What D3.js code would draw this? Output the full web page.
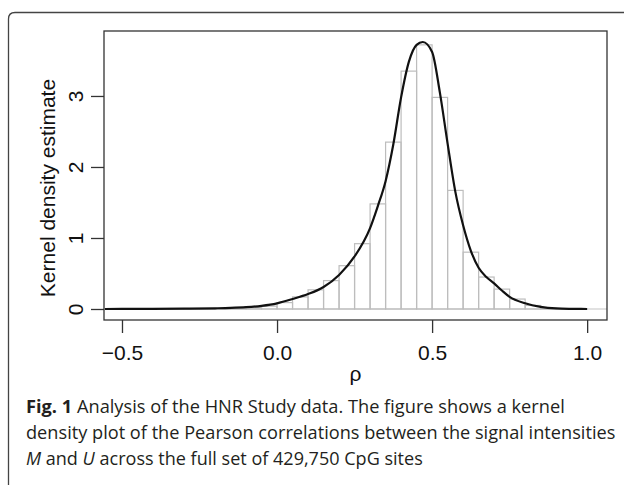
<!DOCTYPE html>
<html lang="en">

<head>
    <meta charset="utf-8">
    <title>Kernel density of rho</title>
    <script src="https://cdn.jsdelivr.net/npm/d3@7"></script>
    <style>
        body {
            margin: 0;
            background: #fff;
        }

        .svg {
            width: 624px;
            height: 485px;
            display: block;
        }

        .axis text {
            font-family: "Liberation Sans", Arial, sans-serif;
            font-size: 21px;
            fill: #111;
        }

        .axis line {
            stroke: #333;
            stroke-width: 1.3px;
        }

        .caption {
            font-family: "Open Sans", "Noto Sans", sans-serif;
            font-size: 18px;
            fill: #231f20;
        }
    </style>
</head>

<body>
    <div id="infoviz"></div>
    <script type="text/javascript">
        // histogram bins (left edge) and their densities
        var binStarts = [-0.50, -0.45, -0.40, -0.35, -0.30, -0.25, -0.20, -0.15, -0.10, -0.05,
            0.00, 0.05, 0.10, 0.15, 0.20, 0.25, 0.30, 0.35, 0.40, 0.45,
            0.50, 0.55, 0.60, 0.65, 0.70, 0.75, 0.80, 0.85, 0.90, 0.95];
        var binHeights = [0.000, 0.000, 0.000, 0.002, 0.003, 0.004, 0.006, 0.010, 0.020, 0.040,
            0.090, 0.170, 0.270, 0.400, 0.610, 0.920, 1.480, 2.350, 3.350, 3.720,
            2.980, 1.670, 0.800, 0.450, 0.280, 0.140, 0.050, 0.010, 0.002, 0.000];
        var binWidth = 0.05;

        // kernel density curve
        var curveX = [-0.555, -0.50, -0.40, -0.30, -0.20, -0.15, -0.10, -0.05, 0.00, 0.05, 0.10,
            0.15, 0.20, 0.25, 0.30, 0.325, 0.35, 0.375, 0.40, 0.425, 0.45,
            0.47, 0.50, 0.525, 0.55, 0.575, 0.60, 0.625, 0.65, 0.675, 0.70,
            0.725, 0.75, 0.80, 0.85, 0.90, 0.95, 1.00];
        var curveY = [0.000, 0.001, 0.002, 0.005, 0.010, 0.015, 0.025, 0.045, 0.080, 0.140, 0.210,
            0.310, 0.480, 0.740, 1.140, 1.450, 1.800, 2.320, 2.980, 3.480, 3.720,
            3.760, 3.620, 3.050, 2.330, 1.650, 1.180, 0.820, 0.580, 0.450, 0.360,
            0.260, 0.170, 0.080, 0.030, 0.008, 0.002, 0.000];

        var xTicks = [-0.5, 0.0, 0.5, 1.0];
        var xTickLabels = ['\u22120.5', '0.0', '0.5', '1.0'];
        var yTicks = [0, 1, 2, 3];
        var yTickLabels = ['0', '1', '2', '3'];

        var captionLines = [
            [{ t: 'Fig. 1', w: 'bold' }, { t: ' Analysis of the HNR Study data. The figure shows a kernel' }],
            [{ t: 'density plot of the Pearson correlations between the signal intensities' }],
            [{ t: 'M', s: 'italic' }, { t: ' and ' }, { t: 'U', s: 'italic' }, { t: ' across the full set of 429,750 CpG sites' }]
        ];
        var captionEnds = [565, 616, 423];

        var svgWidth = 624;
        var svgHeight = 485;
        var plotLeft = 104, plotRight = 607, plotTop = 31, plotBottom = 320;

        var svg = d3.select('#infoviz')
            .append('svg')
            .attr('class', 'svg')
            .attr('width', svgWidth)
            .attr('height', svgHeight);

        // outer frame, rounded top-left corner, open to the right and bottom
        svg.append('path')
            .attr('d', 'M8.5,' + svgHeight + ' L8.5,19 Q8.5,12.5 15,12.5 L' + svgWidth + ',12.5')
            .attr('fill', 'none')
            .attr('stroke', '#444')
            .attr('stroke-width', 1.3);

        var xScale = d3.scaleLinear()
            .domain([-0.558, 1.064])
            .range([plotLeft, plotRight]);
        var yScale = d3.scaleLinear()
            .domain([-0.155, 3.915])
            .range([plotBottom, plotTop]);

        // zero line
        svg.append('line')
            .attr('x1', plotLeft).attr('x2', plotRight)
            .attr('y1', yScale(0)).attr('y2', yScale(0))
            .attr('stroke', '#c4c4c4')
            .attr('stroke-width', 1.2);

        svg.selectAll('rect.bar')
            .data(binStarts)
            .enter()
            .append('rect')
            .attr('class', 'bar')
            .attr('x', (d) => { return xScale(d); })
            .attr('width', (d) => { return xScale(d + binWidth) - xScale(d); })
            .attr('y', (d, i) => { return yScale(binHeights[i]); })
            .attr('height', (d, i) => { return yScale(0) - yScale(binHeights[i]); })
            .attr('fill', 'none')
            .attr('stroke', '#bdbdbd')
            .attr('stroke-width', 1.2);

        var line = d3.line()
            .x(function (d, i) { return xScale(d); })
            .y(function (d, i) { return yScale(curveY[i]); })
            .curve(d3.curveMonotoneX);

        svg.append('path')
            .attr('d', line(curveX))
            .attr('fill', 'none')
            .attr('stroke', '#111')
            .attr('stroke-width', 2.2);

        // box
        svg.append('rect')
            .attr('x', plotLeft).attr('y', plotTop)
            .attr('width', plotRight - plotLeft)
            .attr('height', plotBottom - plotTop)
            .attr('fill', 'none')
            .attr('stroke', '#333')
            .attr('stroke-width', 1.3);

        var xAxis = d3.axisBottom(xScale)
            .tickValues(xTicks)
            .tickSize(13)
            .tickFormat((d, i) => { return xTickLabels[i]; });
        var yAxis = d3.axisLeft(yScale)
            .tickValues(yTicks)
            .tickSize(13)
            .tickFormat((d, i) => { return yTickLabels[i]; });

        var gx = svg.append('g')
            .attr('class', 'axis')
            .attr('transform', `translate(0, ${plotBottom})`)
            .call(xAxis);
        gx.select('.domain').remove();
        gx.selectAll('text').attr('y', 40).attr('dy', 0);

        var gy = svg.append('g')
            .attr('class', 'axis')
            .attr('transform', `translate(${plotLeft}, 0)`)
            .call(yAxis);
        gy.select('.domain').remove();
        gy.selectAll('text')
            .attr('x', 0).attr('dy', 0)
            .attr('text-anchor', 'middle')
            .attr('transform', 'translate(-21, 0) rotate(-90)');

        // axis titles
        svg.append('text')
            .attr('x', (plotLeft + plotRight) / 2)
            .attr('y', 381)
            .attr('text-anchor', 'middle')
            .style('font-family', '"Liberation Sans", Arial, sans-serif')
            .style('font-size', '21px')
            .style('fill', '#111')
            .text('\u03c1');

        svg.append('text')
            .attr('text-anchor', 'middle')
            .attr('transform', 'translate(55, 188) rotate(-90)')
            .style('font-family', '"Liberation Sans", Arial, sans-serif')
            .style('font-size', '21px')
            .style('fill', '#111')
            .text('Kernel density estimate');

        // caption
        var captionBase = [413, 439, 465];
        captionLines.forEach((parts, i) => {
            var t = svg.append('text')
                .attr('class', 'caption')
                .attr('x', 0)
                .attr('y', 0);
            parts.forEach((p) => {
                t.append('tspan')
                    .style('font-weight', p.w || 'normal')
                    .style('font-style', p.s || 'normal')
                    .text(p.t);
            });
            var w = t.node().getComputedTextLength();
            var k = (captionEnds[i] - 26) / w;
            t.attr('transform', `translate(26, ${captionBase[i]}) scale(${k}, 1)`);
        });
    </script>
</body>

</html>
